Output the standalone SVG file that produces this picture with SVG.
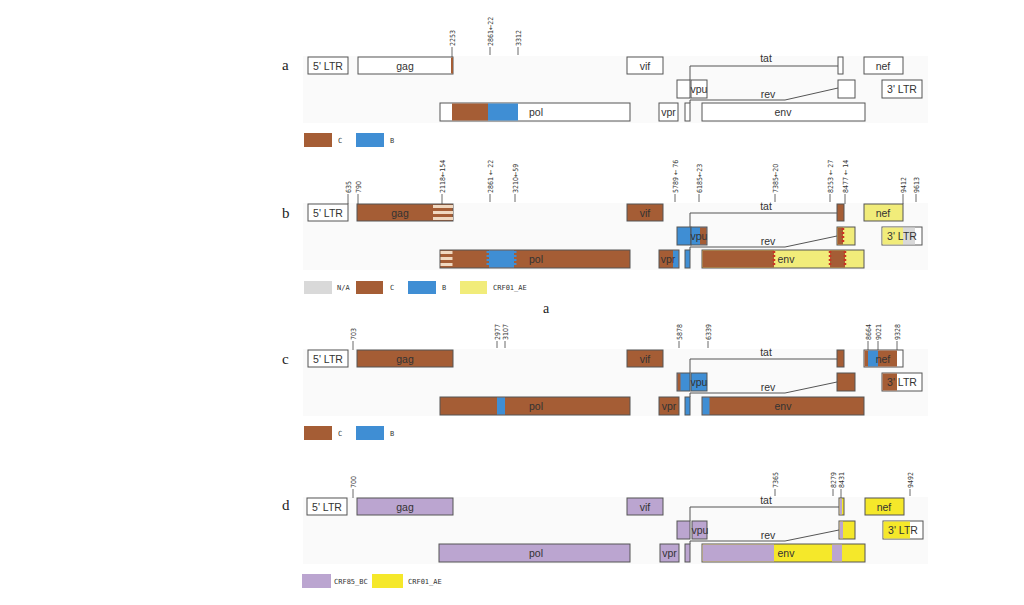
<svg xmlns="http://www.w3.org/2000/svg" width="1024" height="605" viewBox="0 0 1024 605">
<style>
.bg{fill:#fafafa}
.bx{stroke:#555;stroke-width:1}
.w{fill:#fff}
.br{fill:#a55d35}
.bl{fill:#3f8ed4}
.yl{fill:#f1ec7a}
.yb{fill:#f5e82a}
.pu{fill:#bba5d0}
.gr{fill:#d9d9d9}
.st{fill:#f0d8c0}
.lbl{font-family:"Liberation Sans",Arial,sans-serif;font-size:10.5px;fill:#333;text-anchor:middle}
.tk{font-family:"DejaVu Sans Condensed","DejaVu Sans",sans-serif;font-size:7px;fill:#333}
.tl{stroke:#444;stroke-width:0.8}
.cn{stroke:#555;stroke-width:1;fill:none}
.leg{font-family:"DejaVu Sans Mono",monospace;font-size:7px;fill:#333}
.pl{font-family:"Liberation Serif","Times New Roman",serif;font-size:15px;fill:#222}
.red{stroke:#cc3322;stroke-width:2.5;stroke-dasharray:2 2}
.blw{stroke:#3f8ed4;stroke-width:3;stroke-dasharray:2 2}
</style>
<rect width="1024" height="605" fill="#fff"/>

<!-- backgrounds -->
<rect class="bg" x="303" y="56" width="625" height="67"/>
<rect class="bg" x="303" y="203" width="625" height="67"/>
<rect class="bg" x="303" y="349" width="625" height="67"/>
<rect class="bg" x="303" y="497" width="625" height="67"/>

<!-- panel letters -->
<text class="pl" x="282" y="70">a</text>
<text class="pl" x="282" y="218">b</text>
<text class="pl" x="282" y="364">c</text>
<text class="pl" x="282" y="510">d</text>
<text class="pl" x="543" y="313" style="font-size:14px">a</text>

<!-- ===== Panel a ===== -->
<g id="panel-a">
  <g id="a-5ltr"><rect class="bx w" x="308" y="57" width="40" height="17"/><text class="lbl" x="328" y="69.5">5' LTR</text></g>
  <g id="a-gag"><rect class="bx w" x="358" y="57" width="95" height="17"/><rect class="br" x="451" y="57.5" width="2" height="16"/><text class="lbl" x="405" y="69.5">gag</text></g>
  <g id="a-vif"><rect class="bx w" x="627" y="57" width="36" height="17"/><text class="lbl" x="645" y="69.5">vif</text></g>
  <g id="a-tat2"><rect class="bx w" x="838" y="57" width="5" height="17"/></g>
  <g id="a-nef"><rect class="bx w" x="864" y="57" width="39" height="17"/><text class="lbl" x="883" y="69.5">nef</text></g>
  <g id="a-tat1"><rect class="bx w" x="677" y="80" width="13" height="18"/></g>
  <g id="a-vpu"><rect class="bx w" x="691" y="80" width="16" height="18"/><text class="lbl" x="699" y="93">vpu</text></g>
  <g id="a-rev2"><rect class="bx w" x="838" y="80" width="17" height="18"/></g>
  <g id="a-3ltr"><rect class="bx w" x="882" y="80" width="40" height="18"/><text class="lbl" x="902" y="93">3' LTR</text></g>
  <g id="a-pol"><rect class="bx w" x="440" y="103" width="190" height="18"/><rect class="br" x="452" y="103.5" width="36" height="17"/><rect class="bl" x="488" y="103.5" width="30" height="17"/><text class="lbl" x="536" y="116">pol</text></g>
  <g id="a-vpr"><rect class="bx w" x="659" y="103" width="19" height="18"/><text class="lbl" x="668.5" y="116">vpr</text></g>
  <g id="a-rev1"><rect class="bx w" x="685" y="103" width="5" height="18"/></g>
  <g id="a-env"><rect class="bx w" x="702" y="103" width="163" height="18"/><text class="lbl" x="783" y="116">env</text></g>
  <g id="a-legend">
    <rect class="br" x="304" y="133" width="28" height="14"/><text class="leg" x="338" y="143">C</text>
    <rect class="bl" x="356" y="133" width="28" height="14"/><text class="leg" x="390" y="143">B</text>
  </g>
</g>

<!-- ===== Panel b ===== -->
<g id="panel-b">
  <g id="b-5ltr"><rect class="bx w" x="308" y="204" width="40" height="17"/><text class="lbl" x="328" y="216.5">5' LTR</text></g>
  <g id="b-gag"><rect class="bx br" x="357" y="204" width="96" height="17"/>
    <rect class="st" x="433" y="205" width="20" height="3"/><rect class="st" x="433" y="211" width="20" height="3"/><rect class="st" x="433" y="217" width="20" height="3"/>
    <text class="lbl" x="400" y="216.5">gag</text></g>
  <g id="b-vif"><rect class="bx br" x="627" y="204" width="36" height="17"/><text class="lbl" x="645" y="216.5">vif</text></g>
  <g id="b-tat2"><rect class="bx br" x="837" y="204" width="7" height="17"/></g>
  <g id="b-nef"><rect class="bx yl" x="864" y="204" width="39" height="17"/><text class="lbl" x="883" y="216.5">nef</text></g>
  <g id="b-tat1"><rect class="bx bl" x="677" y="227" width="14" height="18"/></g>
  <g id="b-vpu"><rect class="bx bl" x="691" y="227" width="16" height="18"/><rect class="br" x="700" y="227.5" width="6.5" height="17"/><text class="lbl" x="699" y="240">vpu</text></g>
  <g id="b-rev2"><rect class="bx yl" x="837" y="227" width="18" height="18"/><rect class="br" x="837.5" y="227.5" width="5.5" height="17"/><line class="red" x1="843" y1="228" x2="843" y2="244"/></g>
  <g id="b-3ltr"><rect class="bx w" x="882" y="227" width="40" height="18"/><rect class="yl" x="882.5" y="227.5" width="20.5" height="17"/><rect class="gr" x="903" y="227.5" width="12" height="17"/><text class="lbl" x="902" y="240">3' LTR</text></g>
  <g id="b-pol"><rect class="bx br" x="440" y="250" width="190" height="18"/>
    <rect class="st" x="440.5" y="251" width="12" height="3"/><rect class="st" x="440.5" y="257" width="12" height="3"/><rect class="st" x="440.5" y="263" width="12" height="3"/>
    <rect class="bl" x="489" y="250.5" width="25" height="17"/><line class="blw" x1="488" y1="251" x2="488" y2="267"/><line class="blw" x1="515" y1="251" x2="515" y2="267"/>
    <text class="lbl" x="536" y="263">pol</text></g>
  <g id="b-vpr"><rect class="bx br" x="659" y="250" width="20" height="18"/><rect class="bl" x="673" y="250.5" width="5.5" height="17"/><text class="lbl" x="668" y="263">vpr</text></g>
  <g id="b-rev1"><rect class="bx bl" x="685" y="250" width="5" height="18"/></g>
  <g id="b-env"><rect class="bx yl" x="702" y="250" width="162" height="18"/>
    <rect class="br" x="702.5" y="250.5" width="71.5" height="17"/><rect class="br" x="830" y="250.5" width="15" height="17"/>
    <line class="red" x1="774" y1="251" x2="774" y2="267"/><line class="red" x1="830" y1="251" x2="830" y2="267"/><line class="red" x1="845" y1="251" x2="845" y2="267"/>
    <text class="lbl" x="786" y="263">env</text></g>
  <g id="b-legend">
    <rect class="gr" x="304" y="281" width="28" height="13"/><text class="leg" x="337" y="290">N/A</text>
    <rect class="br" x="356" y="281" width="27" height="13"/><text class="leg" x="390" y="290">C</text>
    <rect class="bl" x="408" y="281" width="28" height="13"/><text class="leg" x="442" y="290">B</text>
    <rect class="yl" x="460" y="281" width="27" height="13"/><text class="leg" x="493" y="290">CRF01_AE</text>
  </g>
</g>

<!-- ===== Panel c ===== -->
<g id="panel-c">
  <g id="c-5ltr"><rect class="bx w" x="308" y="350" width="40" height="17"/><text class="lbl" x="328" y="362.5">5' LTR</text></g>
  <g id="c-gag"><rect class="bx br" x="357" y="350" width="96" height="17"/><text class="lbl" x="405" y="362.5">gag</text></g>
  <g id="c-vif"><rect class="bx br" x="627" y="350" width="36" height="17"/><text class="lbl" x="645" y="362.5">vif</text></g>
  <g id="c-tat2"><rect class="bx br" x="837" y="350" width="7" height="17"/></g>
  <g id="c-nef"><rect class="bx w" x="864" y="350" width="39" height="17"/><rect class="br" x="864.5" y="350.5" width="32.5" height="16"/><rect class="bl" x="868" y="350.5" width="10" height="16"/><text class="lbl" x="883" y="362.5">nef</text></g>
  <g id="c-tat1"><rect class="bx bl" x="677" y="373" width="13" height="18"/><rect class="br" x="677.5" y="373.5" width="3" height="17"/></g>
  <g id="c-vpu"><rect class="bx bl" x="691" y="373" width="16" height="18"/><text class="lbl" x="699" y="386">vpu</text></g>
  <g id="c-rev2"><rect class="bx br" x="837" y="373" width="18" height="18"/></g>
  <g id="c-3ltr"><rect class="bx w" x="882" y="373" width="40" height="18"/><rect class="br" x="882.5" y="373.5" width="14.5" height="17"/><text class="lbl" x="902" y="386">3' LTR</text></g>
  <g id="c-pol"><rect class="bx br" x="440" y="397" width="190" height="18"/><rect class="bl" x="497" y="397.5" width="8" height="17"/><text class="lbl" x="536" y="410">pol</text></g>
  <g id="c-vpr"><rect class="bx br" x="659" y="397" width="20" height="18"/><text class="lbl" x="669" y="410">vpr</text></g>
  <g id="c-rev1"><rect class="bx bl" x="685" y="397" width="5" height="18"/></g>
  <g id="c-env"><rect class="bx br" x="702" y="397" width="162" height="18"/><rect class="bl" x="702.5" y="397.5" width="7" height="17"/><text class="lbl" x="783" y="410">env</text></g>
  <g id="c-legend">
    <rect class="br" x="304" y="426" width="28" height="14"/><text class="leg" x="338" y="436">C</text>
    <rect class="bl" x="356" y="426" width="28" height="14"/><text class="leg" x="390" y="436">B</text>
  </g>
</g>

<!-- ===== Panel d ===== -->
<g id="panel-d">
  <g id="d-5ltr"><rect class="bx w" x="307" y="498" width="40" height="17"/><text class="lbl" x="327" y="510.5">5' LTR</text></g>
  <g id="d-gag"><rect class="bx pu" x="357" y="498" width="96" height="17"/><text class="lbl" x="405" y="510.5">gag</text></g>
  <g id="d-vif"><rect class="bx pu" x="627" y="498" width="36" height="17"/><text class="lbl" x="645" y="510.5">vif</text></g>
  <g id="d-tat2"><rect class="bx yb" x="839" y="498" width="5" height="17"/><rect class="pu" x="839.5" y="498.5" width="2.5" height="16"/></g>
  <g id="d-nef"><rect class="bx yb" x="865" y="498" width="39" height="17"/><text class="lbl" x="884" y="510.5">nef</text></g>
  <g id="d-tat1"><rect class="bx pu" x="677" y="521" width="13" height="18"/></g>
  <g id="d-vpu"><rect class="bx pu" x="692" y="521" width="15" height="18"/><text class="lbl" x="700" y="534">vpu</text></g>
  <g id="d-rev2"><rect class="bx yb" x="839" y="521" width="16" height="18"/><rect class="pu" x="839.5" y="521.5" width="3.5" height="17"/></g>
  <g id="d-3ltr"><rect class="bx w" x="883" y="521" width="40" height="18"/><rect class="yb" x="883.5" y="521.5" width="26.5" height="17"/><text class="lbl" x="903" y="534">3' LTR</text></g>
  <g id="d-pol"><rect class="bx pu" x="439" y="544" width="191" height="18"/><text class="lbl" x="536" y="557">pol</text></g>
  <g id="d-vpr"><rect class="bx pu" x="660" y="544" width="19" height="18"/><text class="lbl" x="669.5" y="557">vpr</text></g>
  <g id="d-rev1"><rect class="bx pu" x="685" y="544" width="5" height="18"/></g>
  <g id="d-env"><rect class="bx yb" x="702" y="544" width="163" height="18"/><rect class="pu" x="702.5" y="544.5" width="71.5" height="17"/><rect class="pu" x="832" y="544.5" width="10" height="17"/><text class="lbl" x="786" y="557">env</text></g>
  <g id="d-legend">
    <rect class="pu" x="302" y="574" width="29" height="14"/><text class="leg" x="334" y="584">CRF85_BC</text>
    <rect class="yb" x="372" y="574" width="31" height="14"/><text class="leg" x="408" y="584">CRF01_AE</text>
  </g>
</g>

<!-- connectors (tat / rev splicing lines) -->
<g id="connectors">
  <polyline class="cn" points="690,80 690,66 838,66"/>
  <polyline class="cn" points="690,103 690,100 785,100 838,88"/>
  <polyline class="cn" points="690,227 690,213 837,213"/>
  <polyline class="cn" points="690,250 690,247 785,247 837,236"/>
  <polyline class="cn" points="690,373 690,359 837,359"/>
  <polyline class="cn" points="690,397 690,393 785,393 837,382"/>
  <polyline class="cn" points="690,521 690,507 839,507"/>
  <polyline class="cn" points="690,544 690,541 785,541 839,530"/>
  <text class="lbl" x="766" y="62">tat</text>
  <text class="lbl" x="768" y="98">rev</text>
  <text class="lbl" x="766" y="210">tat</text>
  <text class="lbl" x="768" y="245">rev</text>
  <text class="lbl" x="766" y="356">tat</text>
  <text class="lbl" x="768" y="391">rev</text>
  <text class="lbl" x="766" y="504">tat</text>
  <text class="lbl" x="768" y="539">rev</text>
</g>

<!-- breakpoint ticks -->
<g id="ticks">
  <g class="tl">
    <line x1="452" y1="47" x2="452" y2="57"/><line x1="490" y1="47" x2="490" y2="55"/><line x1="518" y1="47" x2="518" y2="55"/>
    <line x1="348" y1="194" x2="348" y2="204"/><line x1="358" y1="194" x2="358" y2="204"/><line x1="442" y1="194" x2="442" y2="204"/>
    <line x1="490" y1="194" x2="490" y2="202"/><line x1="515" y1="194" x2="515" y2="202"/><line x1="675" y1="194" x2="675" y2="202"/>
    <line x1="699" y1="194" x2="699" y2="202"/><line x1="775" y1="194" x2="775" y2="202"/><line x1="830" y1="194" x2="830" y2="202"/>
    <line x1="845" y1="194" x2="845" y2="204"/><line x1="903" y1="194" x2="903" y2="204"/><line x1="916" y1="194" x2="916" y2="202"/>
    <line x1="353" y1="341" x2="353" y2="350"/><line x1="497" y1="341" x2="497" y2="348"/><line x1="505" y1="341" x2="505" y2="348"/>
    <line x1="679" y1="341" x2="679" y2="348"/><line x1="708" y1="341" x2="708" y2="348"/><line x1="868" y1="341" x2="868" y2="350"/>
    <line x1="878" y1="341" x2="878" y2="350"/><line x1="897" y1="341" x2="897" y2="350"/>
    <line x1="353" y1="489" x2="353" y2="498"/><line x1="775" y1="489" x2="775" y2="496"/><line x1="833" y1="489" x2="833" y2="496"/>
    <line x1="841" y1="489" x2="841" y2="498"/><line x1="910" y1="489" x2="910" y2="496"/>
  </g>
  <text class="tk" transform="translate(455,46) rotate(-90)">2253</text>
  <text class="tk" transform="translate(493,46) rotate(-90)">2861←22</text>
  <text class="tk" transform="translate(521,46) rotate(-90)">3312</text>

  <text class="tk" transform="translate(351,193) rotate(-90)">635</text>
  <text class="tk" transform="translate(361,193) rotate(-90)">790</text>
  <text class="tk" transform="translate(445,193) rotate(-90)">2118←154</text>
  <text class="tk" transform="translate(493,193) rotate(-90)">2861 ← 22</text>
  <text class="tk" transform="translate(518,193) rotate(-90)">3210←59</text>
  <text class="tk" transform="translate(678,193) rotate(-90)">5789 ← 76</text>
  <text class="tk" transform="translate(702,193) rotate(-90)">6185←23</text>
  <text class="tk" transform="translate(778,193) rotate(-90)">7385←20</text>
  <text class="tk" transform="translate(833,193) rotate(-90)">8253 ← 27</text>
  <text class="tk" transform="translate(848,193) rotate(-90)">8477 ← 14</text>
  <text class="tk" transform="translate(906,193) rotate(-90)">9412</text>
  <text class="tk" transform="translate(919,193) rotate(-90)">9613</text>

  <text class="tk" transform="translate(356,340) rotate(-90)">703</text>
  <text class="tk" transform="translate(500,340) rotate(-90)">2977</text>
  <text class="tk" transform="translate(508,340) rotate(-90)">3107</text>
  <text class="tk" transform="translate(682,340) rotate(-90)">5878</text>
  <text class="tk" transform="translate(711,340) rotate(-90)">6339</text>
  <text class="tk" transform="translate(871,340) rotate(-90)">8664</text>
  <text class="tk" transform="translate(881,340) rotate(-90)">9021</text>
  <text class="tk" transform="translate(900,340) rotate(-90)">9328</text>

  <text class="tk" transform="translate(356,488) rotate(-90)">700</text>
  <text class="tk" transform="translate(778,488) rotate(-90)">7365</text>
  <text class="tk" transform="translate(836,488) rotate(-90)">8279</text>
  <text class="tk" transform="translate(844,488) rotate(-90)">8431</text>
  <text class="tk" transform="translate(913,488) rotate(-90)">9492</text>
</g>
</svg>
